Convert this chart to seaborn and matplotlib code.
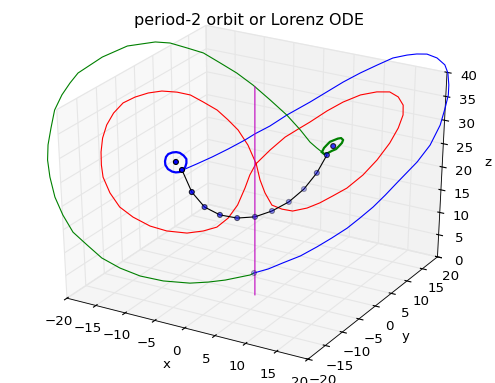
import matplotlib
matplotlib.use("Agg")
import matplotlib.pyplot as plt
import seaborn as sns

# period-2 orbit
red_x = [-0.6, -0.6, -1.4, -2.6, -3.5, -4.1, -5.1, -6.3, -7.9, -10.0, -12.0, -14.2, -16.3, -17.9, -19.1, -19.8, -20.5, -20.7,
         -20.3, -19.2, -17.4, -15.6, -13.3, -11.2, -9.5, -8.0, -6.6, -5.7, -4.8, -3.4, -2.3, -1.9, -1.4, -0.8, 0.4, 1.7, 3.4, 4.5,
         5.7, 6.9, 8.2, 9.7, 11.5, 12.3, 12.6, 12.9, 12.9, 12.2, 11.9, 10.9, 10.1, 8.9, 7.1, 6.1, 3.3, 1.2, -0.6]
red_y = [1.2, -0.5, -0.5, -0.6, -1.8, -4.0, -6.2, -8.7, -11.6, -12.7, -14.0, -14.0, -13.2, -12.4, -10.9, -9.8, -8.2, -6.7, -5.4,
         -4.5, -4.1, -3.4, -3.4, -2.7, -1.9, -0.9, 0.6, 2.1, 3.4, 3.8, 4.3, 4.7, 5.3, 6.3, 7.2, 8.1, 9.4, 11.3, 13.0, 15.2, 17.7,
         19.2, 19.6, 20.6, 21.4, 20.7, 19.0, 17.6, 14.1, 11.0, 7.3, 4.8, 3.1, 2.1, 2.8, 2.2, 1.2]
red_z = [24, 22.5, 19.5, 15.5, 13, 12, 12, 12.5, 14, 15, 17, 18.5, 20.5, 23, 24.5, 26.5, 28.5, 30.5, 32.5,
         34.5, 36, 37, 38, 38, 37.5, 36, 34, 31.5, 29, 26, 22, 18.5, 15.5, 12.5, 11.5, 11, 11.5, 12, 13, 14, 16,
         19, 23, 26, 28.5, 31, 33.5, 35, 36.5, 37, 37, 36, 34, 33, 30, 27, 24]

# origin to the right fixed point
green_x = [-0.9, -0.8, -2.1, -3.1, -4.8, -7.7, -10.2, -12.9, -15.3, -17.8, -20.2, -22.5, -24.2, -26.0, -26.8, -27.9, -29.1,
           -29.9, -29.1, -29.1, -28.7, -26.5, -24.2, -21.6, -19.5, -16.8, -14.7, -12.0, -9.8, -7.7, -4.4, -0.7,
           2.5, 5.1, 6.6, 8.0]
green_y = [1.2, -0.1, -5.1, -8.3, -10.6, -13.2, -15.4, -16.5, -17.5, -17.4, -17.3, -16.3, -15.6, -14.0, -13.2, -11.3, -8.6,
           -6.3, -5.4, -3.2, -1.6, 1.6, 4.8, 8.3, 9.0, 9.3, 10.4, 10.6, 11.6, 12.7, 12.0, 10.4, 8.7, 6.9, 6.2, 5.2]
green_z = [0, 0.3, 1.5, 2.5, 3, 4, 5.5, 7, 9, 11, 13, 15.5, 18.5, 21.5, 24.5, 26.5, 28.5, 31, 34, 35.5, 37, 39.5,
           41, 41, 41, 40.5, 39.5, 38, 36, 33.5, 31.5, 30, 28.5, 27.5, 27, 27]
green_loop_x = [8.0, 7.5, 7.3, 7.1, 7.3, 7.5, 7.8, 8.4, 8.8, 9.0, 9.2, 9.0, 8.9, 8.6, 8.0]
green_loop_y = [5.2, 6.7, 7.9, 9.2, 10.1, 10.9, 11.3, 10.8, 9.7, 8.5, 7.2, 6.3, 5.3, 4.7, 5.2]
green_loop_z = [27, 27, 27, 27, 27, 27, 27, 27, 27, 27, 27, 27, 27, 27, 27]

# origin to the left fixed point
blue_x = [-0.9, 0.6, 1.8, 3.6, 4.9, 6.4, 7.8, 9.2, 10.5, 11.5, 12.4, 14.4, 16.2, 17.1, 17.9, 18.4, 18.3, 18.1, 17.5, 16.1,
          15.0, 13.7, 12.7, 11.5, 10.0, 7.6, 5.4, 3.9, 2.4, 0.2, -0.7, -1.5, -2.0, -2.8, -3.7, -4.7, -5.7]
blue_y = [1.2, 2.8, 5.1, 7.2, 9.9, 11.7, 13.9, 15.2, 16.9, 18.8, 20.6, 23.1, 23.5, 24.7, 24.4, 24.2, 24.4, 24.3, 24.4,
          24.6, 23.5, 22.8, 21.7, 19.6, 17.7, 17.1, 16.1, 13.9, 11.7, 8.8, 5.4, 2.5, 0.6, -2.8, -5.8, -8.3, -10.4]
blue_z = [0, 0.5, 1, 2, 3, 4.5, 6, 8, 10, 12, 14, 18, 22, 26, 30, 33, 35, 37.5, 39, 40, 41, 41, 41, 41, 40, 38, 36,
          34.5, 33, 31, 30, 29.5, 29, 28.5, 28, 27.5, 27]
blue_loop_x = [-5.7, -5.7, -6.1, -6.7, -7.7, -8.8, -9.6, -10.3, -10.6, -10.4, -10.0, -9.4, -8.4, -7.4, -6.6, -6.0, -5.7]
blue_loop_y = [-10.4, -11.3, -11.7, -11.7, -11.2, -10.1, -8.9, -7.5, -6.4, -5.6, -5.2, -5.2, -5.8, -6.7, -8.0, -9.3, -10.4]
blue_loop_z = [27, 27, 27, 27, 27, 27, 27, 27, 27, 27, 27, 27, 27, 27, 27, 27, 27]

# connecting curve and its markers, then the two fixed points and the origin
dots_x = [-8.6, -7.7, -6.8, -4.7, -2.8, -1.2, 0.3, 1.6, 2.4, 4.4, 6.6]
dots_y = [-6.0, -4.9, -2.9, -2.1, -0.4, 2.0, 4.4, 7.1, 10.2, 10.4, 9.3]
dots_z = [24, 19, 15, 13.5, 12.5, 12, 12.5, 13.5, 15, 19, 24]
fixed_x = [-8.1, 8.3, -0.9]
fixed_y = [-8.4, 8.0, 1.2]
fixed_z = [27, 27, 0]

# z axis through the origin
axis_x = [-0.8, -0.8]
axis_y = [1.3, 1.3]
axis_z = [-5, 40]

sns.set_theme(style="white", color_codes=False)
plt.style.use("classic")
blue, red, green = sns.color_palette(["#0000ff", "#ff0000", "#008000"])

fig = plt.figure(figsize=(495 / 80, 383 / 80), dpi=80)
ax = fig.add_axes([1 / 495, 0, 1, 1], projection="3d")
# keep the axes stretched to the whole figure like the old mplot3d did
ax.apply_aspect = lambda position=None: None
ax.set_box_aspect((1, 1, 1), zoom=0.945)

ax.plot(red_x, red_y, red_z, color=red)
ax.plot(blue_x, blue_y, blue_z, color=blue)
ax.plot(blue_loop_x, blue_loop_y, blue_loop_z, color=blue, lw=2)
ax.plot(green_x, green_y, green_z, color=green)
ax.plot(green_loop_x, green_loop_y, green_loop_z, color=green, lw=2)
ax.plot(dots_x, dots_y, dots_z, color="k")
ax.plot(axis_x, axis_y, axis_z, color="m")
ax.scatter(dots_x, dots_y, dots_z, c="b")
ax.scatter(fixed_x, fixed_y, fixed_z, c="b")

ax.set_xlim(-20, 20)
ax.set_ylim(-20, 20)
ax.set_zlim(0, 40)
ax.set_xlabel("x")
ax.set_ylabel("y")
ax.set_zlabel("z")
ax.set_title("period-2 orbit or Lorenz ODE", x=0.5, y=1.0)
fig.savefig("out.png", dpi=80)
